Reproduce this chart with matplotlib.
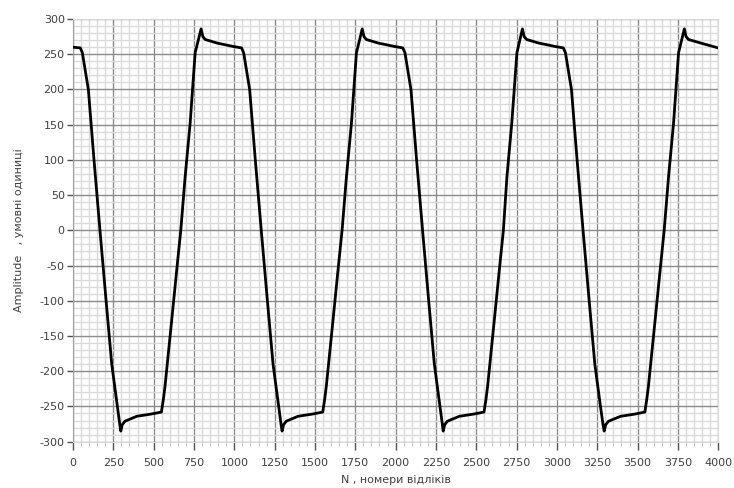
import matplotlib

matplotlib.use("Agg")

import matplotlib.pyplot as plt
from matplotlib.ticker import MultipleLocator

plt.rcParams["axes.unicode_minus"] = False

# samples (N, amplitude)
N = [
    0, 45, 58, 75, 95, 130, 167, 205, 240, 275, 290, 296, 305, 322, 395, 480, 548,
    560, 570, 612, 643, 668, 695, 726, 757, 794, 805, 819, 891, 994,
    1045, 1058, 1075, 1095, 1130, 1167, 1205, 1240, 1275, 1290, 1296, 1305, 1322, 1395, 1480, 1548,
    1560, 1570, 1612, 1643, 1668, 1695, 1726, 1757, 1793, 1804, 1818, 1890, 1994,
    2045, 2058, 2075, 2095, 2130, 2167, 2205, 2240, 2275, 2290, 2295, 2304, 2321, 2395, 2480, 2548,
    2560, 2570, 2612, 2643, 2668, 2690, 2720, 2752, 2786, 2797, 2812, 2885, 2990,
    3040, 3053, 3070, 3090, 3125, 3162, 3200, 3235, 3270, 3286, 3293, 3302, 3320, 3395, 3480, 3545,
    3557, 3567, 3609, 3640, 3665, 3692, 3723, 3754, 3790, 3801, 3815, 3890, 4000,
]
AMPLITUDE = [
    260, 259, 252, 228, 200, 100, 0, -100, -190, -250, -276, -285, -276, -271, -264, -261, -258,
    -240, -222, -127, -56, 0, 76, 152, 252, 286, 275, 271, 266, 261,
    259, 252, 228, 200, 100, 0, -100, -190, -250, -276, -285, -276, -271, -264, -261, -258,
    -240, -222, -127, -56, 0, 76, 152, 252, 286, 275, 271, 266, 261,
    259, 252, 228, 200, 100, 0, -100, -190, -250, -276, -285, -276, -271, -264, -261, -258,
    -240, -222, -127, -56, 0, 76, 152, 252, 286, 275, 271, 266, 261,
    259, 252, 228, 200, 100, 0, -100, -190, -250, -276, -285, -276, -271, -264, -261, -258,
    -240, -222, -127, -56, 0, 76, 152, 252, 286, 275, 271, 266, 259,
]

X_LABEL = "N , номери відліків"
Y_LABEL = "Amplitude   , умовні одиниці"

fig = plt.figure(figsize=(7.34, 4.88), dpi=100)
ax = fig.add_axes([0.0995, 0.095, 0.879, 0.866])

ax.plot(N, AMPLITUDE, color="black", linewidth=2.0, zorder=3)

ax.set_xlim(0, 4000)
ax.set_ylim(-300, 300)
ax.xaxis.set_major_locator(MultipleLocator(250))
ax.xaxis.set_minor_locator(MultipleLocator(50))
ax.yaxis.set_major_locator(MultipleLocator(50))
ax.yaxis.set_minor_locator(MultipleLocator(10))

ax.grid(which="major", color="#8a8a8a", linewidth=1.0)
ax.grid(which="minor", color="#dadada", linewidth=1.0)
ax.set_axisbelow(True)

for side in ["top", "right", "bottom"]:
    ax.spines[side].set_color("#dadada")
ax.spines["left"].set_color("#a0a0a0")

ax.tick_params(which="major", length=4, width=1, color="#505050",
               labelsize=8, labelcolor="#404040", pad=2)
ax.tick_params(axis="x", which="major", length=6, pad=6)
ax.tick_params(which="minor", length=0)
ax.tick_params(axis="x", which="minor", length=3, color="#b8b8b8")

ax.set_xlabel(X_LABEL, fontsize=8, color="#404040", labelpad=5)
ax.set_ylabel(Y_LABEL, fontsize=8, color="#404040", labelpad=11)

plt.savefig("out.png", dpi=100)
plt.close(fig)
